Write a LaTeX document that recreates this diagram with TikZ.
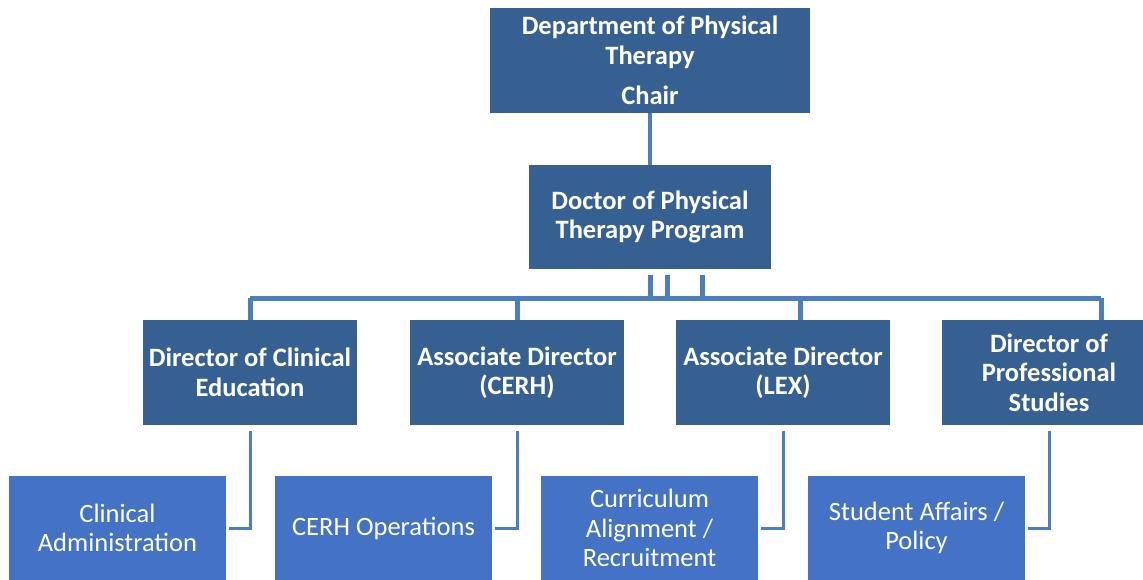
\documentclass[tikz,border=0pt]{standalone}
\usepackage{fontspec}
\setmainfont{Carlito}
\usetikzlibrary{positioning,calc}
\definecolor{headblue}{RGB}{55,96,146}
\definecolor{unitblue}{RGB}{68,114,196}
\definecolor{linkblue}{RGB}{74,126,190}
\tikzstyle{head} = [rectangle, fill=headblue, text=white, font=\fontsize{26.5}{29.5}\selectfont\bfseries,
    text centered, inner sep=0pt, minimum height=105pt]
\tikzstyle{unit} = [rectangle, fill=unitblue, text=white, font=\fontsize{26.5}{29.5}\selectfont,
    text centered, inner sep=0pt, minimum width=217pt, minimum height=104pt]
\tikzstyle{line} = [draw=linkblue, line width=5pt]
\tikzstyle{elbow} = [draw=linkblue, line width=3pt]

\begin{document}
\begin{tikzpicture}[x=1pt, y=-1pt, node distance = 267pt]
    \useasboundingbox (0,0) rectangle (1143,580);
    % Place nodes
    \node [head, minimum width=320pt, align=center] (chair) at (650,60.5) {Department of Physical\\Therapy\\[11pt]Chair};
    \node [head, minimum width=242pt, minimum height=104pt, align=center, below of=chair, node distance=156.5pt] (dpt) {Doctor of Physical\\Therapy Program};
    \node [head, minimum width=214pt, align=center] (dce) at (250,372.5) {Director of Clinical\\Education};
    \node [head, minimum width=214pt, align=center, right of=dce] (cerh) {Associate Director\\(CERH)};
    \node [head, minimum width=214pt, align=center, right of=cerh, node distance=266pt] (lex) {Associate Director\\(LEX)};
    \node [head, minimum width=214pt, align=center, right of=lex, node distance=266pt] (dps) {Director of\\Professional\\Studies};
    \node [unit, align=center] (clin) at (117.5,528) {Clinical\\Administration};
    \node [unit, align=center, right of=clin, node distance=266pt] (ops) {CERH Operations};
    \node [unit, align=center, right of=ops, node distance=266pt] (curr) {Curriculum\\Alignment /\\Recruitment};
    \node [unit, align=center, right of=curr, node distance=267pt] (aff) {Student Affairs /\\Policy};
    \coordinate (busl) at (250,298);
    \coordinate (busr) at (1101,298);
    % Draw edges
    \path [line, line width=4pt] (chair.south) -- (dpt.north);
    \path [line] ([yshift=-6pt]dpt.south) -- (dpt.south |- busl);
    \path [line] ([xshift=17pt,yshift=-6pt]dpt.south) -- ([xshift=17pt]dpt.south |- busl);
    \path [line] ([xshift=52pt,yshift=-6pt]dpt.south) -- ([xshift=52pt]dpt.south |- busl);
    \path [line] (busl) -- (busr);
    \path [line] (busl) -- (dce.north);
    \path [line] (cerh.north |- busl) -- (cerh.north);
    \path [line] ([xshift=17pt]lex.north |- busl) -- ([xshift=17pt]lex.north);
    \path [line] (busr) -- (busr |- dps.north);
    \path [elbow] ([yshift=-6pt]dce.south) -- (dce.south |- clin.east) -- ([xshift=3pt]clin.east);
    \path [elbow] ([yshift=-6pt]cerh.south) -- (cerh.south |- ops.east) -- ([xshift=3pt]ops.east);
    \path [elbow] ([yshift=-6pt]lex.south) -- (lex.south |- curr.east) -- ([xshift=3pt]curr.east);
    \path [elbow] ([yshift=-6pt]dps.south) -- (dps.south |- aff.east) -- ([xshift=3pt]aff.east);
\end{tikzpicture}
\end{document}
